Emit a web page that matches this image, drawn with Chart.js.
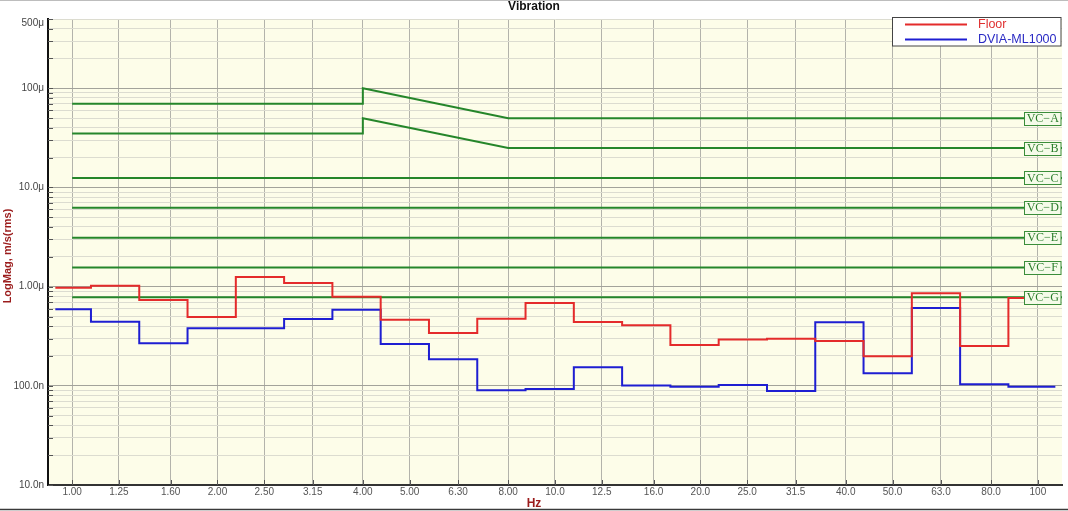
<!DOCTYPE html>
<html>
<head>
<meta charset="utf-8">
<script src="https://cdn.jsdelivr.net/npm/chart.js@4.4.1/dist/chart.umd.min.js"></script>
<style>
  html, body { margin: 0; padding: 0; background: #ffffff; }
  #wrap { width: 1068px; height: 511px; }
</style>
</head>
<body>
<div id="wrap"><canvas id="c" width="1068" height="511"></canvas></div>
<script>
// ---- data (values in m/s rms) ----
const freqLabels = ['1.00','1.25','1.60','2.00','2.50','3.15','4.00','5.00','6.30','8.00','10.0','12.5','16.0','20.0','25.0','31.5','40.0','50.0','63.0','80.0','100'];
const freqValues = [1, 1.25, 1.6, 2, 2.5, 3.15, 4, 5, 6.3, 8, 10, 12.5, 16, 20, 25, 31.5, 40, 50, 63, 80, 100];

const floorValues = [0.977e-6, 1.023e-6, 0.733e-6, 0.494e-6, 1.25e-6, 1.09e-6, 0.792e-6, 0.464e-6, 0.341e-6, 0.475e-6, 0.684e-6,
                     0.440e-6, 0.408e-6, 0.258e-6, 0.294e-6, 0.299e-6, 0.283e-6, 0.199e-6, 0.857e-6, 0.252e-6, 0.769e-6];
const dviaValues  = [0.591e-6, 0.443e-6, 0.268e-6, 0.380e-6, 0.380e-6, 0.472e-6, 0.586e-6, 0.264e-6, 0.185e-6, 0.0901e-6, 0.0929e-6,
                     0.154e-6, 0.101e-6, 0.098e-6, 0.102e-6, 0.0887e-6, 0.438e-6, 0.134e-6, 0.609e-6, 0.104e-6, 0.098e-6];

const vcNames = ['VC\u2212A','VC\u2212B','VC\u2212C','VC\u2212D','VC\u2212E','VC\u2212F','VC\u2212G'];
const vcLow   = [70e-6, 35e-6, 12.5e-6, 6.25e-6, 3.12e-6, 1.56e-6, 0.78e-6];   // 1 – 4 Hz
const vcPeak  = [100e-6, 50e-6, 12.5e-6, 6.25e-6, 3.12e-6, 1.56e-6, 0.78e-6];  // at 4 Hz
const vcHigh  = [50e-6, 25e-6, 12.5e-6, 6.25e-6, 3.12e-6, 1.56e-6, 0.78e-6];   // 8 Hz and up
const vcBreaks = [1, 4, 8];

const yTickValues = [1e-8, 1e-7, 1e-6, 1e-5, 1e-4, 5e-4];
const yTickLabels = ['10.0n', '100.0n', '1.00\u03bc', '10.0\u03bc', '100\u03bc', '500\u03bc'];

const xMin = 0.8913, xMax = 112.2;     // axis limits
const seriesStart = 0.923, seriesEnd = 108.7;
const edgeShift = 0.039;               // band step position (decades above lower band centre)

// ---- build step series: each band value spans its band ----
function bandEdge(i) { return Math.pow(10, (i - 1) / 10 + edgeShift); }
function stepPoints(vals) {
  const pts = vals.map((v, i) => ({ x: i === 0 ? seriesStart : bandEdge(i), y: v }));
  pts.push({ x: seriesEnd, y: vals[vals.length - 1] });
  return pts;
}
function vcPoints(i) {
  return [
    { x: vcBreaks[0], y: vcLow[i] },
    { x: vcBreaks[1], y: vcLow[i] },
    { x: vcBreaks[1], y: vcPeak[i] },
    { x: vcBreaks[2], y: vcHigh[i] },
    { x: xMax, y: vcHigh[i] }
  ];
}

// minor y grid ticks
const yGridTicks = [];
for (let d = -8; d <= -4; d++) {
  for (let m = 1; m <= 9; m++) {
    const v = m * Math.pow(10, d);
    if (v <= 5e-4 * 1.0001) yGridTicks.push(+v.toPrecision(6));
  }
}
function isDecade(v) {
  const l = Math.log10(v);
  return Math.abs(l - Math.round(l)) < 1e-6;
}

const RED = '#e42b2b', BLUE = '#1e1ed2', GREEN = '#25862a';
const FONT = "'Liberation Sans', Arial, sans-serif";

const datasets = [];
datasets.push({ label: 'Floor', data: stepPoints(floorValues), borderColor: RED, borderWidth: 2, stepped: true, pointRadius: 0, fill: false, order: 0 });
datasets.push({ label: 'DVIA-ML1000', data: stepPoints(dviaValues), borderColor: BLUE, borderWidth: 2, stepped: true, pointRadius: 0, fill: false, order: 1 });
vcNames.forEach((n, i) => {
  datasets.push({ label: n, data: vcPoints(i), borderColor: GREEN, borderWidth: 2, pointRadius: 0, fill: false, tension: 0, order: 2 });
});

const decor = {
  id: 'decor',
  beforeDraw(chart) {
    const ctx = chart.ctx, a = chart.chartArea;
    ctx.save();
    ctx.fillStyle = '#ffffff';
    ctx.fillRect(0, 0, chart.width, chart.height);
    ctx.fillStyle = '#fdfde9';
    ctx.fillRect(a.left, a.top, a.right - a.left, a.bottom - a.top);
    ctx.restore();
  },
  afterDatasetsDraw(chart) {
    const ctx = chart.ctx, a = chart.chartArea;
    const xs = chart.scales.x, ys = chart.scales.y;
    ctx.save();
    // inward tick marks
    ctx.strokeStyle = '#555';
    ctx.lineWidth = 1;
    ctx.beginPath();
    yGridTicks.forEach(v => {
      const y = Math.round(ys.getPixelForValue(v)) + 0.5;
      ctx.moveTo(a.left, y); ctx.lineTo(a.left + 5, y);
    });
    freqValues.forEach(v => {
      const x = Math.round(xs.getPixelForValue(v)) + 0.5;
      ctx.moveTo(x, a.bottom); ctx.lineTo(x, a.bottom - 5);
    });
    ctx.stroke();

    // VC labels
    ctx.font = "12px 'Liberation Serif', 'Times New Roman', serif";
    ctx.textAlign = 'center';
    ctx.textBaseline = 'middle';
    vcNames.forEach((n, i) => {
      const y = ys.getPixelForValue(vcHigh[i]);
      const bx = 1024.5, bw = 36.5, bh = 13;
      ctx.fillStyle = '#f5fbe9';
      ctx.fillRect(bx, y - bh / 2, bw, bh);
      ctx.strokeStyle = '#3a8d3a';
      ctx.lineWidth = 1;
      ctx.strokeRect(bx, Math.round(y - bh / 2) + 0.5, bw, bh);
      ctx.fillStyle = '#2a7d2a';
      ctx.fillText(n, bx + bw / 2, y + 0.5);
    });

    // legend
    ctx.fillStyle = '#ffffff';
    ctx.fillRect(892.5, 17.5, 168.5, 28.5);
    ctx.strokeStyle = '#444';
    ctx.lineWidth = 1;
    ctx.strokeRect(892.5, 17.5, 168.5, 28.5);
    ctx.lineWidth = 2;
    ctx.strokeStyle = RED;
    ctx.beginPath(); ctx.moveTo(905, 24.5); ctx.lineTo(967, 24.5); ctx.stroke();
    ctx.strokeStyle = BLUE;
    ctx.beginPath(); ctx.moveTo(905, 39.5); ctx.lineTo(967, 39.5); ctx.stroke();
    ctx.font = "12.5px " + FONT;
    ctx.textAlign = 'left';
    ctx.fillStyle = '#e03030';
    ctx.fillText('Floor', 978, 25);
    ctx.fillStyle = '#2a2ac4';
    ctx.fillText('DVIA-ML1000', 978, 39.5);
    ctx.restore();
  },
  afterDraw(chart) {
    const ctx = chart.ctx;
    ctx.save();
    // title
    ctx.fillStyle = '#111';
    ctx.font = "bold 12px " + FONT;
    ctx.textAlign = 'center';
    ctx.textBaseline = 'middle';
    ctx.fillText('Vibration', 534, 7);
    // x title
    ctx.fillStyle = '#9b1c1c';
    ctx.fillText('Hz', 534, 504);
    // y title
    ctx.font = "bold 11px " + FONT;
    ctx.translate(8, 256);
    ctx.rotate(-Math.PI / 2);
    ctx.fillText('LogMag, m/s(rms)', 0, 0);
    ctx.restore();
    // frame lines
    ctx.save();
    ctx.strokeStyle = '#bdbdbd';
    ctx.lineWidth = 1;
    ctx.beginPath(); ctx.moveTo(0, 0.5); ctx.lineTo(chart.width, 0.5); ctx.stroke();
    ctx.strokeStyle = '#3a3a3a';
    ctx.lineWidth = 1.5;
    ctx.beginPath(); ctx.moveTo(0, 509.5); ctx.lineTo(chart.width, 509.5); ctx.stroke();
    ctx.restore();
  }
};

new Chart(document.getElementById('c'), {
  type: 'line',
  data: { datasets },
  options: {
    responsive: false,
    animation: false,
    devicePixelRatio: 1,
    layout: { padding: { top: 19, right: 6, left: 0, bottom: 0 } },
    plugins: { legend: { display: false }, title: { display: false }, tooltip: { enabled: false } },
    scales: {
      x: {
        type: 'logarithmic',
        min: xMin, max: xMax,
        afterBuildTicks(scale) { scale.ticks = freqValues.map(v => ({ value: v })); },
        afterFit(scale) { scale.height = 26; },
        ticks: {
          autoSkip: false, maxRotation: 0, minRotation: 0, padding: 1,
          color: '#555', font: { family: FONT, size: 10 },
          callback: (v, i) => freqLabels[i]
        },
        grid: { color: '#b3b3ab', lineWidth: 1, drawTicks: false },
        border: { display: true, color: '#333', width: 2 }
      },
      y: {
        type: 'logarithmic',
        min: 1e-8, max: 5e-4,
        afterBuildTicks(scale) { scale.ticks = yGridTicks.map(v => ({ value: v })); },
        afterFit(scale) { scale.width = 48; },
        ticks: {
          autoSkip: false, padding: 4,
          color: '#444', font: { family: FONT, size: 10, lineHeight: 0.9 },
          callback: (v) => {
            const idx = yTickValues.findIndex(t => Math.abs(t - v) / t < 1e-6);
            if (idx < 0) return '';
            if (yTickValues[idx] === 5e-4) return ['', yTickLabels[idx]];
            return yTickLabels[idx];
          }
        },
        grid: {
          drawTicks: false,
          lineWidth: 1,
          color: (c) => (c.tick && isDecade(c.tick.value)) ? '#a3a39b' : '#dcdcd0'
        },
        border: { display: true, color: '#111', width: 2 }
      }
    }
  },
  plugins: [decor]
});
</script>
</body>
</html>
